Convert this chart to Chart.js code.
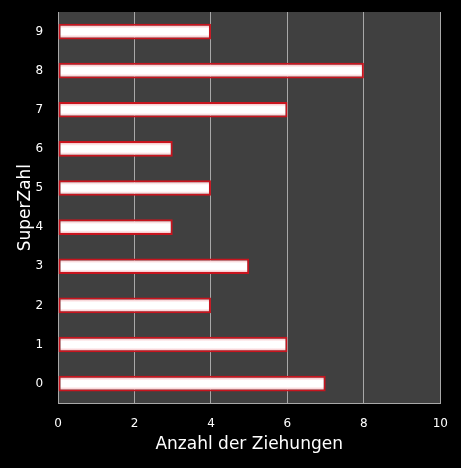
<!DOCTYPE html>
<html>
<head>
<meta charset="utf-8">
<script src="https://cdn.jsdelivr.net/npm/chart.js@4"></script>
<style>
    html, body { margin: 0; padding: 0; background: #000; }
    #wrap { width: 461px; height: 468px; }
</style>
</head>
<body>
<div id="wrap"><canvas id="superzahl-chart"></canvas></div>
<script>
const superZahlen = ['0', '1', '2', '3', '4', '5', '6', '7', '8', '9']
const ziehungen = [7, 6, 4, 5, 3, 4, 3, 6, 8, 4]
const xTicks = [0, 2, 4, 6, 8, 10]

const BAR_PCT = 0.4

// dark plot area behind the bars
const plotBackground = {
    id: 'plotBackground',
    beforeDraw(chart) {
        const { ctx, chartArea: a } = chart
        ctx.save()
        ctx.fillStyle = '#404040'
        ctx.fillRect(a.left, a.top, a.right - a.left, a.bottom - a.top)
        ctx.restore()
    }
}

// white bars with a soft pink edge
function barFill(context) {
    const scale = context.chart.scales.y
    if (!scale || context.dataIndex === undefined) return '#ffffff'
    const y = scale.getPixelForValue(context.dataIndex)
    const h = scale.height / superZahlen.length * BAR_PCT / 2
    if (!Number.isFinite(y) || !Number.isFinite(h) || h <= 0) return '#ffffff'
    const g = context.chart.ctx.createLinearGradient(0, y - h, 0, y + h)
    g.addColorStop(0, '#f19aa0')
    g.addColorStop(0.3, '#ffffff')
    g.addColorStop(0.7, '#ffffff')
    g.addColorStop(1, '#f19aa0')
    return g
}

new Chart('superzahl-chart', {
    type: 'bar',
    data: {
        labels: superZahlen,
        datasets: [{
            data: ziehungen,
            backgroundColor: barFill,
            borderColor: '#c8141e',
            borderWidth: 2,
            borderSkipped: false,
            categoryPercentage: 1,
            barPercentage: BAR_PCT
        }]
    },
    options: {
        indexAxis: 'y',
        responsive: true,
        maintainAspectRatio: false,
        animation: false,
        layout: { padding: { top: 12, right: 17, bottom: 13, left: 15 } },
        plugins: {
            legend: { display: false },
            tooltip: { enabled: false }
        },
        scales: {
            x: {
                min: 0,
                max: 10,
                afterBuildTicks: axis => { axis.ticks = xTicks.map(v => ({ value: v })) },
                grid: { color: '#a8a8a8', lineWidth: 1, drawTicks: false },
                border: { display: true, color: '#a8a8a8' },
                ticks: { color: '#ffffff', padding: 13, font: { family: 'DejaVu Sans', size: 12 } },
                title: {
                    display: true,
                    text: 'Anzahl der Ziehungen',
                    color: '#ffffff',
                    padding: { top: -9, bottom: 0 },
                    font: { family: 'DejaVu Sans', size: 17 }
                }
            },
            y: {
                reverse: true,
                afterFit: axis => { axis.paddingTop = 0; axis.paddingBottom = 0 },
                grid: { display: false, drawTicks: false },
                border: { display: true, color: '#a8a8a8' },
                ticks: { color: '#ffffff', padding: 15, font: { family: 'DejaVu Sans', size: 12 } },
                title: {
                    display: true,
                    text: 'SuperZahl',
                    color: '#ffffff',
                    padding: { top: 0, bottom: -15 },
                    font: { family: 'DejaVu Sans', size: 17 }
                }
            }
        }
    },
    plugins: [plotBackground]
})
</script>
</body>
</html>
